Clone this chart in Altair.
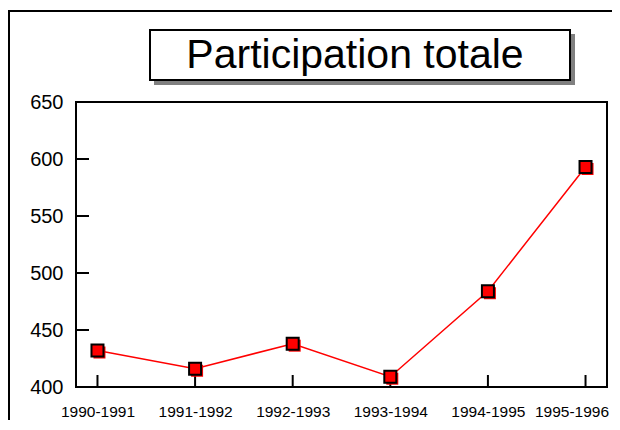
import altair as alt
import pandas as pd

seasons = ["1990-1991", "1991-1992", "1992-1993", "1993-1994", "1994-1995", "1995-1996"]
participation = [432, 416, 438, 409, 484, 593]
y_ticks = [400, 450, 500, 550, 600, 650]
title_text = "Participation totale"

df = pd.DataFrame({"season": seasons, "value": participation})
ticks_df = pd.DataFrame({"value": y_ticks})
cat_df = pd.DataFrame({"season": seasons})
one = pd.DataFrame({"t": [title_text]})

W, H = 531, 285
FONT = "Liberation Sans"

xscale = alt.Scale(type="point", padding=0.22, domain=seasons)
yscale = alt.Scale(domain=[400, 650], nice=False, zero=False)
xaxis = alt.Axis(title=None, labelAngle=0, labelFontSize=15.5, labelPadding=17,
                 tickSize=0, domain=False, grid=False, labelColor="black",
                 labelFont=FONT,
                 labelOffset={"condition": {"test": "datum.value === '1995-1996'", "value": -14},
                              "value": 0})
yaxis = alt.Axis(title=None, values=y_ticks, labelFontSize=20, labelPadding=13,
                 tickSize=0, domain=False, grid=False, labelColor="black",
                 labelFont=FONT)

x_enc = alt.X("season:N", sort=seasons, scale=xscale, axis=xaxis)
y_enc = alt.Y("value:Q", scale=yscale, axis=yaxis)

base = alt.Chart(df)

outer = alt.Chart(one).mark_rect(fillOpacity=0, stroke="black", strokeWidth=2).encode(
    x=alt.value(-67), x2=alt.value(640), y=alt.value(-91), y2=alt.value(440))

title_shadow = alt.Chart(one).mark_rect(fill="#808080").encode(
    x=alt.value(78), x2=alt.value(499), y=alt.value(-68), y2=alt.value(-17))
title_box = alt.Chart(one).mark_rect(fill="white", stroke="black", strokeWidth=2).encode(
    x=alt.value(74), x2=alt.value(494), y=alt.value(-72), y2=alt.value(-22))
title_label = alt.Chart(one).mark_text(fontSize=41, font=FONT, color="black",
                                       baseline="middle", align="center").encode(
    x=alt.value(279), y=alt.value(-46), text="t:N")

line = base.mark_line(color="#ff0000", strokeWidth=1.5).encode(x=x_enc, y=y_enc)
shadow = base.mark_square(size=144, filled=True, color="#ff0000", opacity=1,
                          xOffset=2, yOffset=2).encode(x=x_enc, y=y_enc)
pts = base.mark_square(size=144, filled=True, fill="#ff0000", stroke="black",
                       strokeWidth=2, opacity=1).encode(x=x_enc, y=y_enc)

yt = alt.Chart(ticks_df).mark_rule(color="black", strokeWidth=2).encode(
    y=y_enc, x=alt.value(0), x2=alt.value(13))
xt = alt.Chart(cat_df).mark_rule(color="black", strokeWidth=2).encode(
    x=x_enc, y=alt.value(H), y2=alt.value(H - 12))

chart = alt.layer(outer, title_shadow, title_box, title_label, yt, xt, line, shadow, pts).properties(
    width=W, height=H,
    padding={"left": 68, "top": 94, "right": 5, "bottom": 33},
    autosize=alt.AutoSizeParams(type="none"),
    background="white",
).configure_view(stroke="black", strokeWidth=2)

chart.save("out.html", embed_options={"renderer": "svg", "actions": False})
